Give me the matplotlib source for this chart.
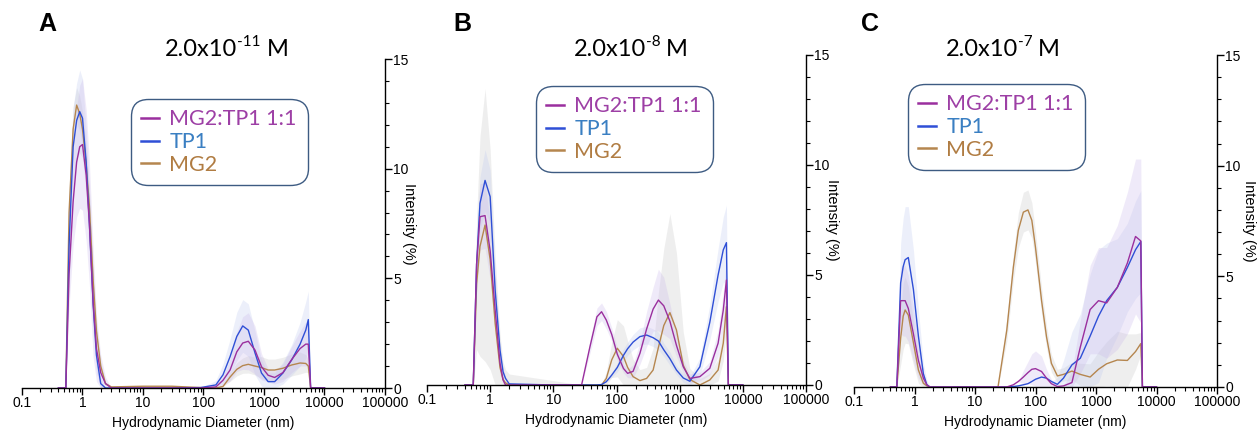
import matplotlib
matplotlib.use("Agg")
import matplotlib.pyplot as plt
import matplotlib.ticker as mticker
import numpy as np

plt.rcParams['font.family'] = ['Liberation Sans', 'DejaVu Sans']

# ---- panel A: 2.0x10^-11 M ----
A_d = [0.4, 0.53, 0.6, 0.7, 0.8, 0.9, 1.0, 1.15, 1.3, 1.5, 1.7, 2.0, 2.4, 3.0, 10, 30,
       90, 160, 210, 275, 355, 445, 550, 710, 910, 1170, 1500, 2050, 2870, 3950, 4900,
       5400, 5900, 10000]
A_mix = [0, 0, 5.2, 8.5, 10.3, 11.0, 11.1, 9.7, 7.5, 3.9, 1.8, 0.7, 0.2, 0, 0, 0,
         0, 0.05, 0.35, 0.82, 1.65, 2.05, 2.13, 1.73, 0.97, 0.58, 0.48, 0.7, 1.3, 1.8, 2.0,
         2.0, 0, 0]
A_tp1 = [0, 0, 6.5, 11.0, 12.2, 12.6, 12.3, 10.3, 7.5, 3.8, 1.5, 0.2, 0, 0, 0, 0,
         0.02, 0.14, 0.6, 1.43, 2.35, 2.83, 2.64, 1.6, 0.68, 0.29, 0.29, 0.68, 1.28, 2.0, 2.64,
         3.12, 0, 0]
A_mg2 = [0, 0, 8.0, 11.8, 12.9, 12.5, 11.8, 10.2, 8.3, 4.9, 2.6, 1.0, 0.2, 0.05, 0.08, 0.08,
         0.02, 0, 0.07, 0.5, 0.85, 1.02, 1.08, 1.0, 0.93, 0.82, 0.82, 0.9, 1.05, 1.14, 1.12,
         1.0, 0, 0]
A_mix_sd = [0, 0, 1.5, 2.0, 2.5, 2.8, 3.0, 3.0, 2.8, 2.5, 1.5, 0.8, 0.3, 0, 0, 0,
            0, 0, 0.2, 0.5, 0.9, 1.2, 1.3, 1.1, 0.6, 0.3, 0.3, 0.4, 0.6, 0.8, 1.0,
            1.0, 0, 0]
A_tp1_sd = [0, 0, 2.0, 1.8, 1.7, 1.9, 1.8, 1.5, 1.5, 1.2, 0.8, 0.3, 0, 0, 0, 0,
            0, 0.2, 0.5, 0.8, 1.1, 1.2, 1.2, 1.0, 0.6, 0.4, 0.4, 0.5, 0.7, 1.0, 1.3,
            1.3, 0, 0]
A_mg2_sd = [0, 0, 1.0, 1.0, 0.8, 0.8, 0.8, 0.8, 0.8, 0.6, 0.4, 0.2, 0.1, 0, 0, 0,
            0, 0, 0, 0.2, 0.3, 0.35, 0.4, 0.4, 0.5, 0.5, 0.5, 0.5, 0.5, 0.5, 0.4,
            0.3, 0, 0]

# ---- panel B: 2.0x10^-8 M ----
B_d = [0.4, 0.54, 0.61, 0.69, 0.83, 1.0, 1.2, 1.43, 1.6, 1.75, 2.0, 10, 28, 38, 49, 58,
       69, 84, 103, 129, 150, 183, 235, 300, 380, 460, 560, 700, 890, 1140, 1450, 2090,
       3000, 4060, 4900, 5500, 5900, 10000]
B_mix = [0, 0, 5.5, 7.65, 7.7, 6.1, 3.4, 1.0, 0.23, 0, 0, 0, 0, 1.74, 3.1, 3.33,
         2.95, 2.3, 1.4, 0.75, 0.53, 0.62, 1.44, 2.55, 3.45, 3.86, 3.6, 2.9, 1.8, 0.83, 0.3, 0.38,
         0.76, 1.9, 3.4, 4.77, 0, 0]
B_tp1 = [0, 0, 5.5, 8.26, 9.3, 8.56, 4.3, 1.6, 0.6, 0.3, 0.05, 0, 0, 0, 0, 0.02,
         0.15, 0.45, 0.8, 1.35, 1.65, 1.95, 2.2, 2.27, 2.15, 2.0, 1.6, 1.2, 0.68, 0.32, 0.17, 0.83,
         2.85, 5.0, 6.14, 6.47, 0, 0]
B_mg2 = [0, 0, 4.6, 6.3, 7.27, 5.7, 2.8, 0.8, 0.25, 0.1, 0, 0, 0, 0, 0, 0,
         0.3, 1.14, 1.67, 1.29, 0.8, 0.38, 0.2, 0.3, 0.68, 1.7, 2.7, 3.29, 2.5, 0.9, 0.25, 0,
         0.23, 0.68, 1.9, 3.56, 0, 0]
B_mix_sd = [0, 0, 1.2, 1.5, 1.5, 1.3, 1.0, 0.5, 0.2, 0, 0, 0, 0, 0.3, 0.4, 0.4,
            0.4, 0.3, 0.3, 0.2, 0.2, 0.3, 0.5, 0.8, 1.0, 1.4, 1.3, 0.8, 0.5, 0.3, 0.2, 0.2,
            0.3, 0.6, 0.8, 1.0, 0, 0]
B_tp1_sd = [0, 0, 1.0, 1.2, 1.4, 1.2, 0.8, 0.4, 0.2, 0.1, 0, 0, 0, 0, 0, 0,
            0, 0.1, 0.2, 0.3, 0.3, 0.35, 0.4, 0.4, 0.4, 0.4, 0.3, 0.3, 0.2, 0.2, 0.2, 0.4,
            0.8, 1.2, 1.5, 1.7, 0, 0]
B_mg2_sd = [0, 0, 3.0, 5.0, 6.2, 5.0, 3.0, 1.5, 0.8, 0.6, 0.5, 0.2, 0, 0, 0, 0,
            0.3, 0.8, 1.3, 1.4, 1.2, 0.8, 0.5, 0.5, 1.0, 2.5, 3.5, 4.5, 3.5, 1.5, 0.5, 0.3,
            0.3, 0.5, 0.8, 1.0, 0, 0]

# ---- panel C: 2.0x10^-7 M ----
C_d = [0.4, 0.51, 0.59, 0.65, 0.70, 0.79, 0.96, 1.16, 1.4, 1.6, 1.8, 10, 24, 33.5, 43, 52,
       63, 75, 87, 100, 126, 152, 183, 230, 290, 400, 550, 800, 1100, 1500, 2250, 3300,
       4500, 5500, 5850, 10000]
C_mix = [0, 0, 3.9, 3.9, 3.9, 3.55, 2.4, 1.2, 0.4, 0.1, 0, 0, 0, 0, 0.1, 0.25,
         0.45, 0.65, 0.8, 0.83, 0.7, 0.4, 0.15, 0.02, 0.05, 0.2, 1.8, 3.5, 3.9, 3.8, 4.5, 5.6,
         6.8, 6.6, 0, 0]
C_tp1 = [0, 0, 4.7, 5.44, 5.75, 5.85, 4.4, 2.3, 0.6, 0.1, 0, 0, 0, 0, 0.02, 0.05,
         0.1, 0.15, 0.25, 0.35, 0.45, 0.4, 0.25, 0.12, 0.4, 1.0, 1.3, 2.3, 3.2, 3.9, 4.5, 5.4,
         6.2, 6.57, 0, 0]
C_mg2 = [0, 0, 2.2, 3.2, 3.48, 3.25, 2.0, 0.77, 0.17, 0.05, 0, 0, 0, 2.56, 5.4, 7.08,
         7.9, 8.0, 7.53, 6.3, 3.9, 2.27, 1.07, 0.5, 0.57, 0.72, 0.57, 0.45, 0.8, 1.05, 1.22, 1.2,
         1.6, 1.96, 0, 0]
C_mix_sd = [0, 0, 1.5, 1.6, 1.6, 1.5, 1.2, 0.8, 0.3, 0, 0, 0, 0, 0, 0, 0,
            0.3, 0.5, 0.7, 0.8, 0.7, 0.4, 0.2, 0, 0, 0.5, 1.2, 2.0, 2.4, 2.5, 2.8, 3.2,
            3.5, 3.7, 0, 0]
C_tp1_sd = [0, 0, 1.8, 2.2, 2.4, 2.3, 1.8, 1.2, 0.5, 0.2, 0, 0, 0, 0, 0, 0,
            0, 0, 0, 0, 0, 0, 0, 0.3, 0.8, 1.5, 2.0, 2.8, 3.0, 2.6, 2.2, 2.0,
            2.2, 2.3, 0, 0]
C_mg2_sd = [0, 0, 1.2, 1.5, 1.5, 1.3, 1.0, 0.6, 0.2, 0, 0, 0, 0, 0.5, 0.6, 0.8,
            0.9, 0.9, 0.8, 0.7, 0.6, 0.5, 0.4, 0.3, 0.3, 0.4, 0.5, 0.6, 0.8, 1.0, 1.3, 1.2,
            0.8, 0.5, 0, 0]

labels = ['MG2:TP1 1:1', 'TP1', 'MG2']
line_colors = ['#9a2f9e', '#2f4fd6', '#b5864f']
text_colors = ['#9d3fa5', '#3a7fc2', '#b07c42']
band_colors = ['#c9b6ea', '#bcc8f0', '#c4c4c4']
title_exp = ['-11', '-8', '-7']
letters = ['A', 'B', 'C']
xticks = [0.1, 1, 10, 100, 1000, 10000, 100000]
xticklabels = ['0.1', '1', '10', '100', '1000', '10000', '100000']

panels = [
    (A_d, [A_mix, A_tp1, A_mg2], [A_mix_sd, A_tp1_sd, A_mg2_sd]),
    (B_d, [B_mix, B_tp1, B_mg2], [B_mix_sd, B_tp1_sd, B_mg2_sd]),
    (C_d, [C_mix, C_tp1, C_mg2], [C_mix_sd, C_tp1_sd, C_mg2_sd]),
]

# axes boxes in pixels: left, y of the zero line (from top), width, height
rects = [(22, 388, 363, 329), (427, 385, 379, 330), (854, 387, 363, 332)]
legend_pos = [(135, 103), (540, 90), (912, 88)]
title_pos = [(227, 49), (631, 49), (1003, 49)]
letter_pos = [(47, 24), (462, 24), (870, 24)]
ylabel_x = [409, 832, 1249]

W, H = 1257, 433
fig = plt.figure(figsize=(W / 100, H / 100), dpi=100)
renderer = fig.canvas.get_renderer()

for i, (d, ys, sds) in enumerate(panels):
    l, b, w, h = rects[i]
    ax = fig.add_axes([l / W, 1 - b / H, w / W, h / H])
    d = np.array(d)
    for y, sd, bc in zip(ys[::-1], sds[::-1], band_colors[::-1]):
        y = np.array(y)
        sd = np.array(sd)
        ax.fill_between(d, np.clip(y - sd, 0, None), y + sd, color=bc,
                        alpha=0.28, lw=0)
    handles = []
    for y, lc, lab in zip(ys[::-1], line_colors[::-1], labels[::-1]):
        hl, = ax.plot(d, y, color=lc, lw=1.0, label=lab)
        handles.append(hl)
    handles = handles[::-1]

    ax.set_xscale('log')
    ax.set_xlim(0.1, 100000)
    ax.set_ylim(0, 15)
    ax.xaxis.set_major_locator(mticker.FixedLocator(xticks))
    ax.xaxis.set_major_formatter(mticker.FixedFormatter(xticklabels))
    ax.xaxis.set_minor_locator(mticker.LogLocator(base=10, subs=np.arange(2, 10), numticks=20))
    ax.xaxis.set_minor_formatter(mticker.NullFormatter())
    ax.yaxis.tick_right()
    ax.yaxis.set_major_locator(mticker.MultipleLocator(5))
    ax.yaxis.set_minor_locator(mticker.MultipleLocator(1))
    for s in ['top', 'left']:
        ax.spines[s].set_visible(False)
    for s in ['bottom', 'right']:
        ax.spines[s].set_linewidth(1.0)
    ax.tick_params(axis='both', which='major', length=5, width=1.0, labelsize=10, pad=1)
    ax.tick_params(axis='both', which='minor', length=3, width=0.8)
    ax.set_xlabel('Hydrodynamic Diameter (nm)', fontsize=10, labelpad=4)
    ax.yaxis.set_label_position('right')
    ax.set_ylabel('Intensity (%)', fontsize=10.5, rotation=270, va='center')
    ax.yaxis.set_label_coords((ylabel_x[i] - l) / w, 0.5)
    ax.patch.set_alpha(0)

    lx, ly = legend_pos[i]
    leg = ax.legend(handles, labels, loc='upper left', bbox_to_anchor=(lx / W, 1 - ly / H),
                    bbox_transform=fig.transFigure, borderaxespad=0, frameon=True,
                    fancybox=True, edgecolor='#3d5b82', facecolor='white', framealpha=1,
                    handlelength=0.8, handletextpad=0.5, labelspacing=0.12,
                    borderpad=0.3, prop={'family': 'Lato', 'size': 15.5},
                    labelcolor=text_colors)
    leg.get_frame().set_linewidth(1.0)
    leg.get_frame().set_boxstyle('round,pad=0.2,rounding_size=0.8')
    for lh in leg.get_lines():
        lh.set_linewidth(1.8)

    # title "2.0x10^-n M" put together from three texts so the exponent keeps a hyphen
    tx, ty = title_pos[i]
    parts = [('2.0x10', 17, 0), (title_exp[i], 11, 7), (' M', 17, 0)]
    texts = []
    widths = []
    for s, fs, dy in parts:
        t = fig.text(0, 0, s, fontsize=fs, family='Lato', ha='left', va='center')
        widths.append(t.get_window_extent(renderer).width)
        texts.append(t)
    x0 = tx - sum(widths) / 2
    for t, (s, fs, dy), wd in zip(texts, parts, widths):
        t.set_position((x0 / W, 1 - (ty - dy) / H))
        x0 += wd

    px, py = letter_pos[i]
    fig.text(px / W, 1 - py / H, letters[i], ha='center', va='center', fontsize=18,
             fontweight='bold')

fig.savefig('out.png', dpi=100)
